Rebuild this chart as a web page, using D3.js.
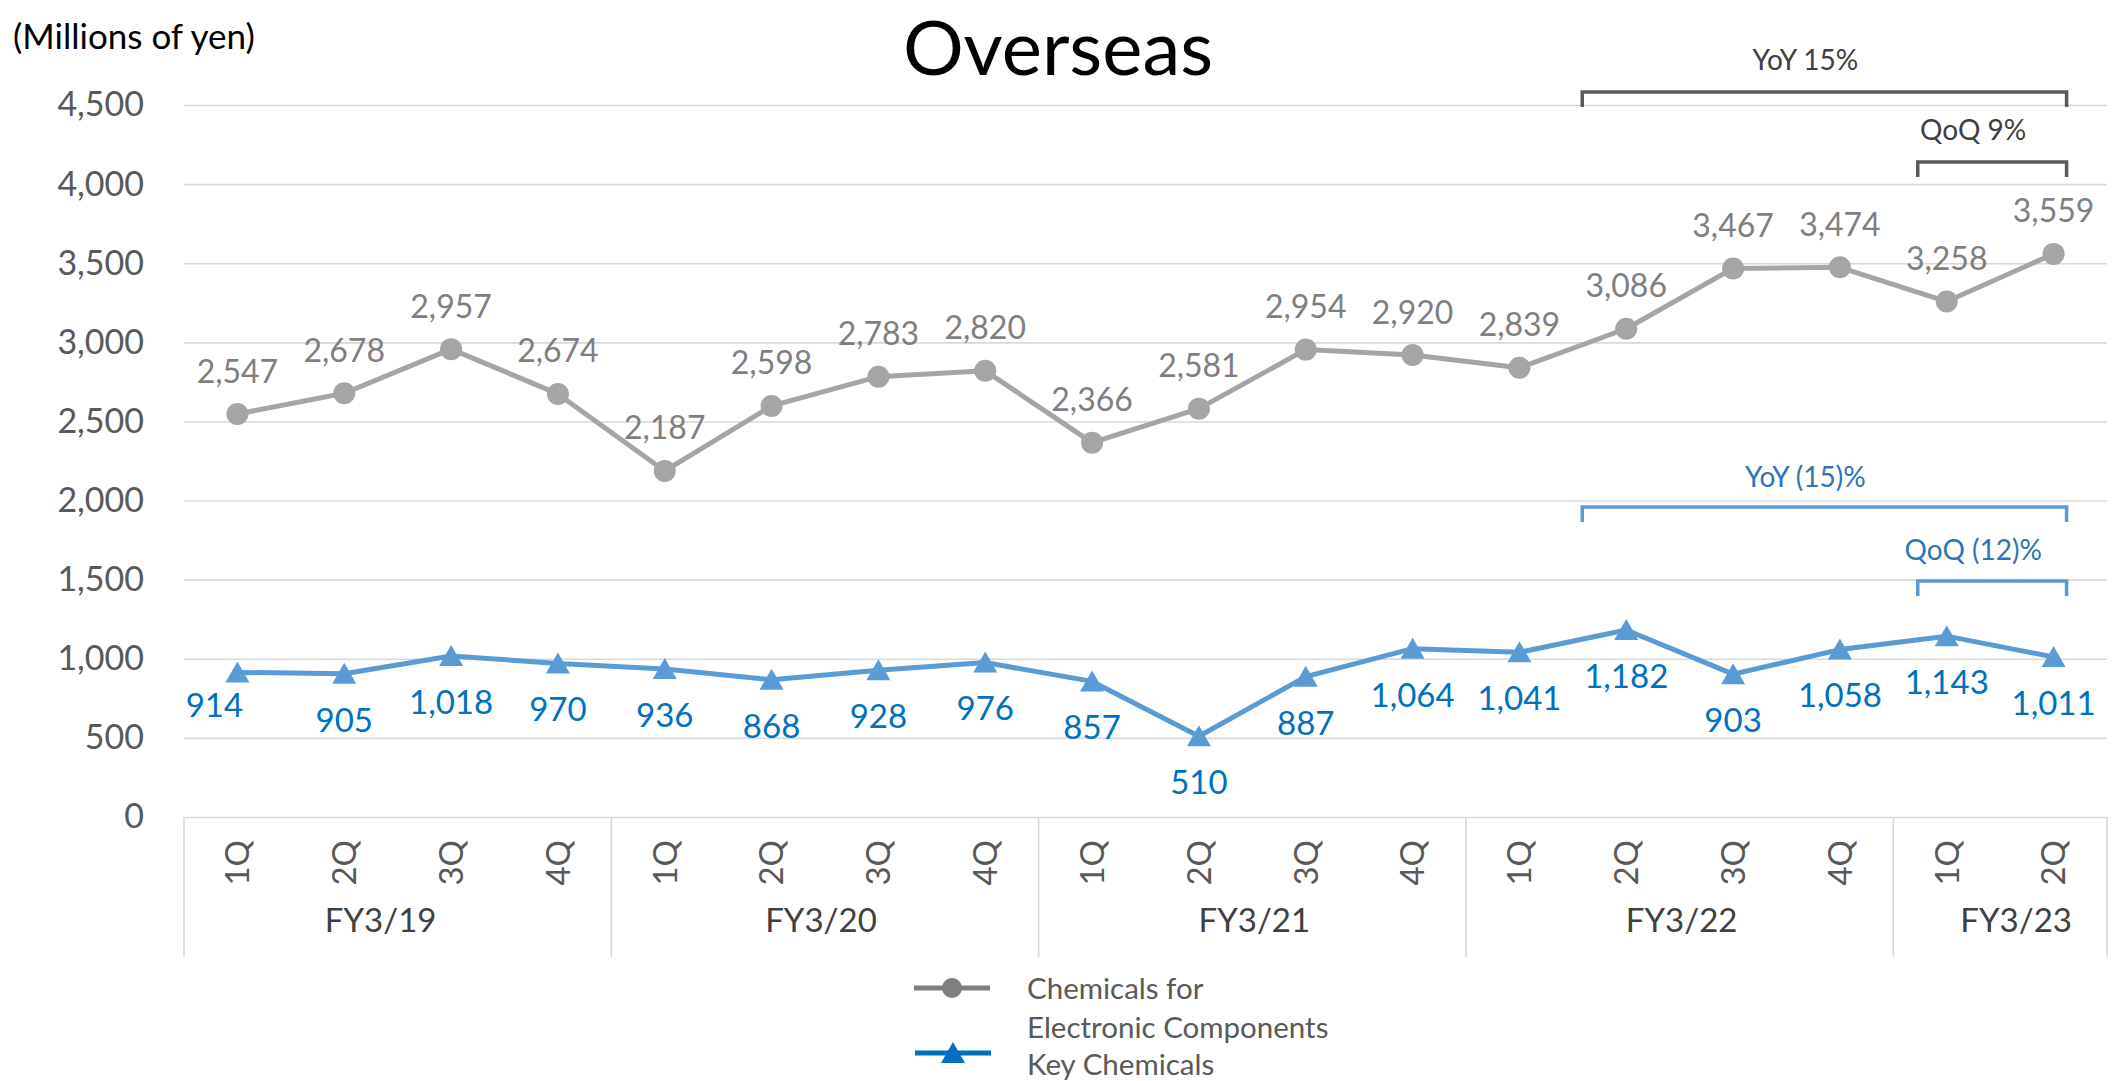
<!DOCTYPE html>
<html>
<head>
<meta charset="utf-8">
<script src="https://cdn.jsdelivr.net/npm/d3@7"></script>
<style>
  html, body { margin: 0; padding: 0; background: #fff; }
  svg { display: block; font-family: Lato, "Open Sans", sans-serif; }
</style>
</head>
<body>
<svg id="chart" width="2117" height="1081"></svg>
<script>
// Quarterly overseas sales, millions of yen
const quarters = ["1Q","2Q","3Q","4Q","1Q","2Q","3Q","4Q","1Q","2Q","3Q","4Q","1Q","2Q","3Q","4Q","1Q","2Q"];
const fiscalYears = ["FY3/19","FY3/20","FY3/21","FY3/22","FY3/23"];
const quartersPerYear = [4, 4, 4, 4, 2];
const electronicChemicals = [2547,2678,2957,2674,2187,2598,2783,2820,2366,2581,2954,2920,2839,3086,3467,3474,3258,3559];
const keyChemicals = [914,905,1018,970,936,868,928,976,857,510,887,1064,1041,1182,903,1058,1143,1011];
const yTicks = [0,500,1000,1500,2000,2500,3000,3500,4000,4500];
const seriesNames = ["Chemicals for Electronic Components", "Key Chemicals"];
// Growth brackets: [label, from index, to index]
const grayBrackets = [["YoY 15%", 13, 17], ["QoQ 9%", 16, 17]];
const blueBrackets = [["YoY (15)%", 13, 17], ["QoQ (12)%", 16, 17]];

const svg = d3.select("#chart");
const plot = { left: 184, right: 2107, top: 105, bottom: 817 };

const x = d3.scaleBand().domain(d3.range(quarters.length)).range([plot.left, plot.right]).padding(0);
const cx = i => x(i) + x.bandwidth() / 2;
const y = d3.scaleLinear().domain([0, 4500]).range([plot.bottom, plot.top]);

const fmt = d3.format(",");
const FONT = "Lato, 'Open Sans', sans-serif";
const GRAY_LINE = "#A5A5A5", GRAY_TEXT = "#7F7F7F";
const BLUE_LINE = "#5B9BD5", BLUE_TEXT = "#0070C0";
const AXIS_TEXT = "#595959", GRID = "#D9D9D9";

// Title and unit
svg.append("text").attr("x", 1058).attr("y", 75).attr("text-anchor", "middle")
  .attr("font-size", 76).attr("fill", "#000").text("Overseas");
svg.append("text").attr("x", 13).attr("y", 49)
  .attr("font-size", 35).attr("fill", "#000").text("(Millions of yen)");

// Gridlines and y-axis labels
const yAxis = d3.axisLeft(y).tickValues(yTicks).tickSize(-(plot.right - plot.left)).tickPadding(40).tickFormat(fmt);
const gy = svg.append("g").attr("transform", `translate(${plot.left},0)`).call(yAxis);
gy.select(".domain").remove();
gy.selectAll(".tick line").attr("stroke", GRID).attr("stroke-width", 1.6);
gy.selectAll(".tick text").attr("font-size", 34).attr("fill", AXIS_TEXT).attr("font-family", FONT);

// Category axis: quarter labels, fiscal-year groups and separators
const gx = svg.append("g");
const qAxis = d3.axisBottom(x).tickSize(0).tickFormat(i => quarters[i]);
const gq = gx.append("g").attr("transform", `translate(0,${plot.bottom})`).call(qAxis);
gq.select(".domain").remove();
gq.selectAll(".tick text")
  .attr("font-size", 33).attr("fill", AXIS_TEXT).attr("font-family", FONT)
  .attr("text-anchor", "end").attr("transform", "translate(0,23) rotate(-90)")
  .attr("x", 0).attr("y", 0).attr("dy", "0.36em");

// Year labels sit slightly outward at the two ends of the axis
const yearLabelShift = [-17, -4, 2, 2, 16];
let start = 0;
const bounds = [0];
fiscalYears.forEach((fy, k) => {
  const end = start + quartersPerYear[k];
  bounds.push(end);
  const mid = (x(start) + x(end - 1) + x.bandwidth()) / 2 + yearLabelShift[k];
  gx.append("text").attr("x", mid).attr("y", 920).attr("dy", "0.36em").attr("text-anchor", "middle")
    .attr("font-size", 33).attr("fill", "#404040").text(fy);
  start = end;
});
gx.selectAll("line.sep").data(bounds).join("line").attr("class", "sep")
  .attr("x1", b => b < quarters.length ? x(b) : plot.right)
  .attr("x2", b => b < quarters.length ? x(b) : plot.right)
  .attr("y1", plot.bottom).attr("y2", 957)
  .attr("stroke", GRID).attr("stroke-width", 1.6);

// Series lines
const line = d3.line().x((d, i) => cx(i)).y(d => y(d));
svg.append("path").datum(electronicChemicals).attr("d", line)
  .attr("fill", "none").attr("stroke", GRAY_LINE).attr("stroke-width", 5).attr("stroke-linejoin", "round");
svg.append("path").datum(keyChemicals).attr("d", line)
  .attr("fill", "none").attr("stroke", BLUE_LINE).attr("stroke-width", 5).attr("stroke-linejoin", "round");

// Markers
svg.append("g").selectAll("circle").data(electronicChemicals).join("circle")
  .attr("cx", (d, i) => cx(i)).attr("cy", d => y(d)).attr("r", 11).attr("fill", GRAY_LINE);
const tri = "M0,-11 L12,10 L-12,10 Z";
svg.append("g").selectAll("path").data(keyChemicals).join("path")
  .attr("d", tri).attr("transform", (d, i) => `translate(${cx(i)},${y(d)})`).attr("fill", BLUE_LINE);

// Data labels
svg.append("g").selectAll("text").data(electronicChemicals).join("text")
  .attr("x", (d, i) => cx(i)).attr("y", d => y(d) - 43).attr("dy", "0.36em").attr("text-anchor", "middle")
  .attr("font-size", 32).attr("fill", GRAY_TEXT).text(fmt);
svg.append("g").selectAll("text").data(keyChemicals).join("text")
  .attr("x", (d, i) => cx(i) - (i === 0 ? 23 : 0))
  .attr("y", (d, i) => y(d) + (i === 0 ? 33 : 46)).attr("dy", "0.36em").attr("text-anchor", "middle")
  .attr("font-size", 33).attr("fill", BLUE_TEXT).text(fmt);

// Growth brackets
function drawBrackets(list, rows, stroke, textColor) {
  list.forEach(([label, from, to], k) => {
    const r = rows[k];
    const x0 = cx(from) - (to - from > 1 ? 44 : 29);
    const x1 = cx(to) + 13;
    svg.append("path").attr("d", `M${x0},${r.bar + 15} V${r.bar} H${x1} V${r.bar + 15}`)
      .attr("fill", "none").attr("stroke", stroke).attr("stroke-width", 3.5);
    svg.append("text").attr("x", (x0 + x1) / 2 - 19).attr("y", r.text).attr("dy", "0.36em")
      .attr("text-anchor", "middle").attr("font-size", 28).attr("fill", textColor).text(label);
  });
}
drawBrackets(grayBrackets, [{ bar: 92, text: 60 }, { bar: 162, text: 130 }], "#595959", "#404040");
drawBrackets(blueBrackets, [{ bar: 507, text: 477 }, { bar: 581, text: 550 }], BLUE_LINE, "#2E75B6");

// Legend
const lg = svg.append("g");
lg.append("line").attr("x1", 914).attr("x2", 990).attr("y1", 988).attr("y2", 988)
  .attr("stroke", "#7F7F7F").attr("stroke-width", 5);
lg.append("circle").attr("cx", 952).attr("cy", 988).attr("r", 10).attr("fill", "#7F7F7F");
lg.append("text").attr("x", 1027).attr("y", 988).attr("dy", "0.36em").attr("font-size", 29.5).attr("fill", AXIS_TEXT)
  .text("Chemicals for");
lg.append("text").attr("x", 1027).attr("y", 1027).attr("dy", "0.36em").attr("font-size", 29.5).attr("fill", AXIS_TEXT)
  .text("Electronic Components");
lg.append("line").attr("x1", 915).attr("x2", 991).attr("y1", 1053).attr("y2", 1053)
  .attr("stroke", BLUE_TEXT).attr("stroke-width", 5);
lg.append("path").attr("d", tri).attr("transform", "translate(953,1053)").attr("fill", BLUE_TEXT);
lg.append("text").attr("x", 1027).attr("y", 1064).attr("dy", "0.36em").attr("font-size", 29.5).attr("fill", AXIS_TEXT)
  .text(seriesNames[1]);
</script>
</body>
</html>
